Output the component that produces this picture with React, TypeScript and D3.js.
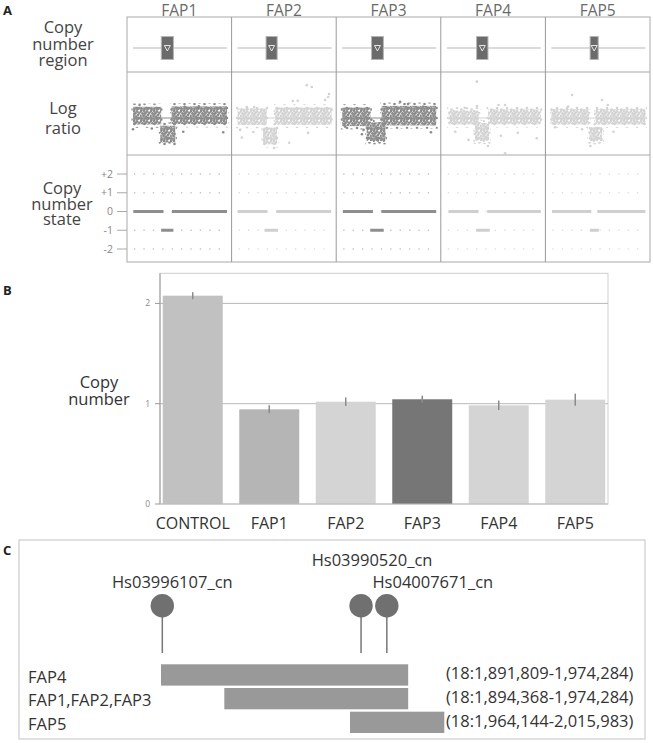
import React from 'react';
import * as d3 from 'd3';

// ---------- Panel A data ----------
const FAPS = ['FAP1', 'FAP2', 'FAP3', 'FAP4', 'FAP5'];
const FAP_TONE = ['dark', 'light', 'dark', 'light', 'light'];

// copy number region (probe index, 0-100 across each sample panel)
const REGION_START = [30.1, 30.3, 31.2, 31.7, 41.2];
const REGION_END = [43.0, 42.1, 43.8, 43.8, 49.8];

// log ratio bands: [startIdx, endIdx, centre log ratio, half spread]
const LR_BANDS_FAP1 = [[0, 30, 0.1, 0.38], [29, 45, -0.69, 0.36], [41, 100, 0.12, 0.38]];
const LR_BANDS_FAP2 = [[0, 31, 0.05, 0.35], [27, 42, -0.77, 0.36], [40, 100, 0.08, 0.37]];
const LR_BANDS_FAP3 = [[0, 30, 0.05, 0.4], [26, 46, -0.59, 0.4], [42, 100, 0.1, 0.42]];
const LR_BANDS_FAP4 = [[2, 34, 0.02, 0.3], [30, 45, -0.6, 0.38], [44, 100, 0.05, 0.32]];
const LR_BANDS_FAP5 = [[0, 40, 0.05, 0.33], [40, 54, -0.69, 0.3], [47, 100, 0.05, 0.33]];
const LR_BANDS = [LR_BANDS_FAP1, LR_BANDS_FAP2, LR_BANDS_FAP3, LR_BANDS_FAP4, LR_BANDS_FAP5];

// scattered probes outside the dense band: [idx, log ratio]
const LR_OUT_FAP1 = [[0, -0.48], [7, 0.56], [53.5, -0.59], [96, -0.61], [55, 0.48], [92.5, 0.44], [20, -0.45], [70, 0.5]];
const LR_OUT_FAP2 = [[73.6, 1.41], [78.9, 1.33], [97.3, 1.03], [96.3, 0.9], [93.1, 0.77], [64, 0.74], [58.7, 0.73],
  [17.6, 0.47], [9.8, 0.47], [2.7, -0.51], [4.5, -0.84], [16.8, -0.6], [54.8, -1.06], [41.7, -0.86], [75, -0.64], [38.8, -1.29]];
const LR_OUT_FAP3 = [[61.7, 0.7], [22.7, -0.51], [21, -0.7], [38, -0.97], [94.4, -0.61], [3, -0.37], [86, 0.48], [70, 0.6]];
const LR_OUT_FAP4 = [[32, 1.56], [32, 0.51], [19, 0.44], [55, 0.56], [62, 0.56], [23, -0.94], [43.8, -1.2], [62, -1.51],
  [57.5, -0.76], [75.5, -0.63], [95.7, -0.87], [9, -0.59]];
const LR_OUT_FAP5 = [[22, 0.99], [54, 0.77], [60, 0.56], [17.8, 0.49], [41.5, -1.2], [4, -0.4], [66, -0.59], [32.6, -0.48]];
const LR_OUT = [LR_OUT_FAP1, LR_OUT_FAP2, LR_OUT_FAP3, LR_OUT_FAP4, LR_OUT_FAP5];

// copy number state segments: [startIdx, endIdx, state]
const CN_SEG_FAP1 = [[0.3, 32.4, 0], [41.4, 100, 0], [29.9, 43, -1]];
const CN_SEG_FAP2 = [[0, 31.5, 0], [41.2, 99.5, 0], [28.6, 43, -1]];
const CN_SEG_FAP3 = [[0.7, 32.7, 0], [41.7, 100, 0], [29.8, 44.2, -1]];
const CN_SEG_FAP4 = [[2, 33.8, 0], [43, 100, 0], [31.2, 45.7, -1]];
const CN_SEG_FAP5 = [[0.7, 42.3, 0], [48.8, 100, 0], [40.9, 50.5, -1]];
const CN_SEG = [CN_SEG_FAP1, CN_SEG_FAP2, CN_SEG_FAP3, CN_SEG_FAP4, CN_SEG_FAP5];
const CN_STATES = [2, 1, 0, -1, -2];
const CN_STATE_LABELS = ['+2', '+1', '0', '-1', '-2'];

// ---------- Panel B data ----------
const BAR_CATS = ['CONTROL', 'FAP1', 'FAP2', 'FAP3', 'FAP4', 'FAP5'];
const BAR_VALUES = [2.077, 0.944, 1.02, 1.044, 0.984, 1.04];
const BAR_ERR = [0.035, 0.04, 0.042, 0.036, 0.048, 0.06];
const BAR_TICKS = [0, 1, 2];

// ---------- Panel C data ----------
const MARKERS = ['Hs03996107_cn', 'Hs03990520_cn', 'Hs04007671_cn'];
const MARKER_POS = [1891862, 1966067, 1970560];
const REGION_LABELS = ['FAP4', 'FAP1,FAP2,FAP3', 'FAP5'];
const REGION_FROM = [1891809, 1894368, 1964144];
const REGION_TO = [1974284, 1974284, 2015983];
const fmt = d3.format(',');

// ---------- styling ----------
const TONE = {
  dark: { pt: '#8b8b8b', seg: '#8e8e8e', dot: '#c4c4c4' },
  light: { pt: '#d3d3d3', seg: '#cfcfcf', dot: '#dedede' },
};
const BAR_FILL = ['#c1c1c1', '#b5b5b5', '#d4d4d4', '#767676', '#d4d4d4', '#d4d4d4'];
const FONT = "'Open Sans', 'DejaVu Sans', sans-serif";
// texture tiles for the dense probe clouds
const DENSE_TILE = [[1, 1], [4, 0.5], [7, 1.5], [9.5, 3], [2.5, 3.5], [5.5, 3], [8, 5], [0.5, 6], [3.5, 6], [6, 6.8],
  [9, 8], [1.5, 8.5], [4.5, 8.8], [7.5, 9.5]];
const SPARSE_TILE = [[1.5, 2], [6.5, 0.5], [4, 6], [8.5, 7.5], [0.5, 9]];

export default function App() {
  // ---- Panel A scales
  const colX = d3.scaleBand<string>().domain(FAPS).range([127, 650]);
  const innerX = (f: string) => d3.scaleLinear().domain([0, 100]).range([colX(f)! + 6, colX(f)! + 100]);
  const lrY = d3.scaleLinear().domain([-1, 1]).range([141.3, 94.7]);
  const cnY = d3.scaleLinear().domain([-2, 2]).range([249, 174]);
  const rowTop = 17, row1 = 72, row2 = 155, rowBottom = 262;
  const regionLineY = 48;

  // ---- Panel B scales
  const bx = d3.scaleBand<string>().domain(BAR_CATS).range([160, 608]).paddingInner(0.216).paddingOuter(0.036);
  const by = d3.scaleLinear().domain([0, 2.3]).range([504, 273.3]);

  // ---- Panel C scale (schematic, piecewise between region breakpoints)
  const breaks = Array.from(new Set([...REGION_FROM, ...REGION_TO])).sort((a, b) => a - b);
  const trackL = 161, trackW = 283.3;
  const breakLayout = [0, 0.2235, 0.6672, 0.8725, 1];
  const cx = d3.scaleLinear().domain(breaks).range(breakLayout.map((f) => trackL + f * trackW));
  const rowBand = d3.scaleBand<string>().domain(REGION_LABELS).range([664.3, 733]).paddingInner(0.1);
  const markerLabelY = [588, 566, 588];
  const markerLabelDx = [10, 11, 46];

  return (
    <svg width={653} height={743} style={{ position: 'absolute', left: 0, top: 0, background: '#fff' }} fontFamily={FONT}>
      <defs>
        {(['dark', 'light'] as const).map((t) => (
          <React.Fragment key={t}>
            <pattern id={`dense-${t}`} width={10} height={10} patternUnits="userSpaceOnUse">
              {DENSE_TILE.map((p, i) => <circle key={i} cx={p[0]} cy={p[1]} r={1.45} fill={TONE[t].pt} />)}
            </pattern>
            <pattern id={`sparse-${t}`} width={10} height={10} patternUnits="userSpaceOnUse" patternTransform="translate(3,2)">
              {SPARSE_TILE.map((p, i) => <circle key={i} cx={p[0]} cy={p[1]} r={1.3} fill={TONE[t].pt} />)}
            </pattern>
          </React.Fragment>
        ))}
      </defs>

      {/* ================= Panel A ================= */}
      <text x={3} y={15} fontSize={13} fontWeight="bold" fill="#222">A</text>
      {/* row labels */}
      <g fontSize={16.5} fill="#444" textAnchor="middle">
        <text x={63} y={33}>Copy</text>
        <text x={63} y={50}>number</text>
        <text x={63} y={66}>region</text>
        <text x={63} y={114}>Log</text>
        <text x={63} y={134}>ratio</text>
        <text x={62} y={194}>Copy</text>
        <text x={62} y={210}>number</text>
        <text x={62} y={225}>state</text>
      </g>
      {/* CN state axis */}
      {CN_STATES.map((s, i) => (
        <g key={s}>
          <line x1={117} x2={127} y1={cnY(s)} y2={cnY(s)} stroke="#aaa" strokeWidth={1} />
          <text x={113} y={cnY(s) + 3.5} fontSize={10.5} fill="#888" textAnchor="end">{CN_STATE_LABELS[i]}</text>
        </g>
      ))}

      {FAPS.map((f, fi) => {
        const x0 = colX(f)!;
        const xs = innerX(f);
        const toneKey = FAP_TONE[fi] as 'dark' | 'light';
        const tone = TONE[toneKey];
        const rs = xs(REGION_START[fi]);
        const re = xs(REGION_END[fi]);
        const rcx = (rs + re) / 2;
        return (
          <g key={f}>
            <text x={x0 + colX.bandwidth() / 2} y={16} fontSize={15.5} fill="#6a6a6a" textAnchor="middle">{f}</text>
            {/* region row */}
            <line x1={xs(0)} x2={xs(100)} y1={regionLineY} y2={regionLineY} stroke="#cfcfcf" strokeWidth={1.5} />
            <rect x={rs} y={36.5} width={re - rs} height={23} fill="#6b6b6b" stroke="#b5b5b5" strokeWidth={1} />
            <path d={`M${rcx - 3},${45.5}L${rcx + 3},${45.5}L${rcx},${51}Z`} fill="none" stroke="#e6e6e6" strokeWidth={1} />
            {/* log ratio row */}
            <line x1={xs(0)} x2={xs(100)} y1={lrY(0)} y2={lrY(0)} stroke={tone.pt} strokeWidth={1} />
            {LR_BANDS[fi].map((b, bi) => (
              <g key={bi}>
                <rect x={xs(b[0]) - 1.5} width={xs(b[1]) - xs(b[0]) + 3} y={lrY(b[2] + b[3] + 0.14)}
                  height={lrY(b[2] - b[3] - 0.14) - lrY(b[2] + b[3] + 0.14)} fill={`url(#sparse-${toneKey})`} />
                <rect x={xs(b[0])} width={xs(b[1]) - xs(b[0])} y={lrY(b[2] + b[3])}
                  height={lrY(b[2] - b[3]) - lrY(b[2] + b[3])} fill={`url(#dense-${toneKey})`} />
              </g>
            ))}
            {LR_OUT[fi].map((p, pi) => (
              <circle key={pi} cx={xs(p[0])} cy={lrY(p[1])} r={1.3} fill={tone.pt} />
            ))}
            {/* copy number state row */}
            {CN_STATES.map((s) => (
              <line key={s} x1={xs(0) + 1} x2={xs(100)} y1={cnY(s)} y2={cnY(s)} stroke={tone.dot}
                strokeWidth={1.3} strokeDasharray="1.3 8.1" />
            ))}
            {CN_SEG[fi].map((sg, si) => (
              <line key={si} x1={xs(sg[0])} x2={xs(sg[1])} y1={cnY(sg[2])} y2={cnY(sg[2])} stroke={tone.seg} strokeWidth={3} />
            ))}
          </g>
        );
      })}
      {/* grid */}
      <g stroke="#a9a9a9" strokeWidth={1} fill="none">
        <rect x={127} y={rowTop} width={523} height={rowBottom - rowTop} />
        <line x1={127} x2={650} y1={row1} y2={row1} />
        <line x1={127} x2={650} y1={row2} y2={row2} />
        {FAPS.slice(1).map((f) => (
          <line key={f} x1={colX(f)} x2={colX(f)} y1={rowTop} y2={rowBottom} stroke="#999" />
        ))}
      </g>

      {/* ================= Panel B ================= */}
      <text x={3} y={295} fontSize={13} fontWeight="bold" fill="#222">B</text>
      <g fontSize={16.5} fill="#333" textAnchor="middle">
        <text x={99} y={388}>Copy</text>
        <text x={99} y={405}>number</text>
      </g>
      <rect x={160} y={273.3} width={448} height={504 - 273.3} fill="none" stroke="#cfcfcf" strokeWidth={1} />
      {BAR_TICKS.filter((t) => t > 0).map((t) => (
        <line key={t} x1={160} x2={608} y1={by(t)} y2={by(t)} stroke="#b8b8b8" strokeWidth={1} />
      ))}
      {BAR_CATS.map((c, i) => (
        <g key={c}>
          <rect x={bx(c)} y={by(BAR_VALUES[i])} width={bx.bandwidth()} height={by(0) - by(BAR_VALUES[i])} fill={BAR_FILL[i]} />
          <line x1={bx(c)! + bx.bandwidth() / 2} x2={bx(c)! + bx.bandwidth() / 2}
            y1={by(BAR_VALUES[i] - BAR_ERR[i])} y2={by(BAR_VALUES[i] + BAR_ERR[i])} stroke="#8a8a8a" strokeWidth={1.5} />
          <text x={bx(c)! + bx.bandwidth() / 2} y={529} fontSize={16} fill="#333" textAnchor="middle">{c}</text>
        </g>
      ))}
      <line x1={160} x2={160} y1={273.3} y2={504} stroke="#999" strokeWidth={1} />
      <line x1={160} x2={608} y1={504} y2={504} stroke="#bbb" strokeWidth={1} />
      {BAR_TICKS.map((t) => (
        <g key={t}>
          <line x1={155} x2={160} y1={by(t)} y2={by(t)} stroke="#999" />
          <text x={150} y={by(t) + 3} fontSize={8.5} fill="#888" textAnchor="end">{t}</text>
        </g>
      ))}

      {/* ================= Panel C ================= */}
      <text x={3} y={555} fontSize={13} fontWeight="bold" fill="#222">C</text>
      <rect x={19} y={540} width={626} height={199} fill="none" stroke="#c2c2c2" strokeWidth={1} />
      {MARKERS.map((m, i) => {
        const x = cx(MARKER_POS[i]);
        return (
          <g key={m}>
            <line x1={x} x2={x} y1={605.7} y2={653} stroke="#777" strokeWidth={1.5} />
            <circle cx={x} cy={605.7} r={11.7} fill="#707070" />
            <text x={x + markerLabelDx[i]} y={markerLabelY[i]} fontSize={16.5} fill="#333" textAnchor="middle">{m}</text>
          </g>
        );
      })}
      {REGION_LABELS.map((r, i) => {
        const y = rowBand(r)!;
        return (
          <g key={r}>
            <rect x={cx(REGION_FROM[i])} y={y} width={cx(REGION_TO[i]) - cx(REGION_FROM[i])} height={rowBand.bandwidth()} fill="#999" />
            <text x={28} y={y + 18.5} fontSize={16.5} fill="#333">{r}</text>
            <text x={446} y={y + 15} fontSize={16.5} fill="#333">{`(18:${fmt(REGION_FROM[i])}-${fmt(REGION_TO[i])})`}</text>
          </g>
        );
      })}
    </svg>
  );
}
